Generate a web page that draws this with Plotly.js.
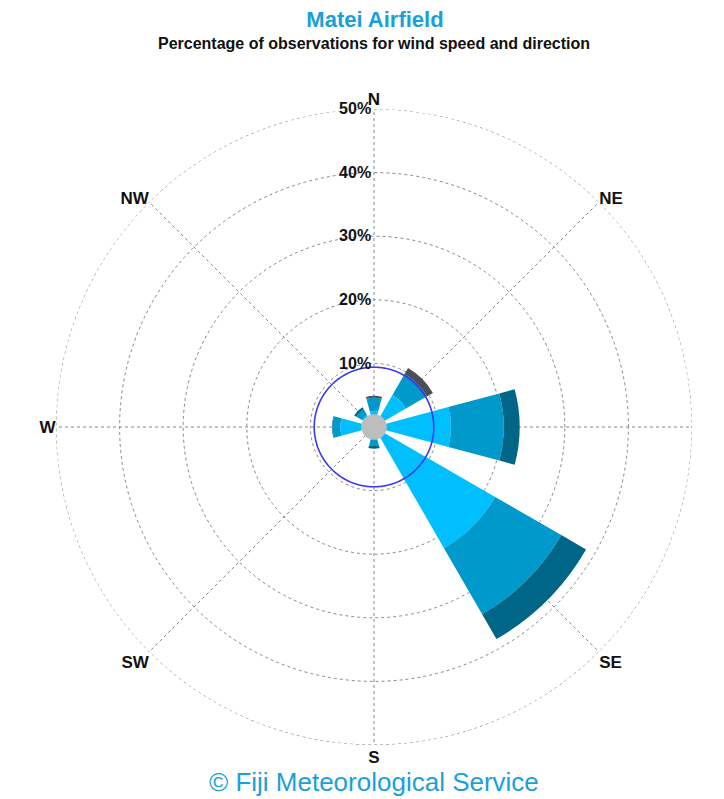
<!DOCTYPE html>
<html>
<head>
<meta charset="utf-8">
<script src="https://cdn.plot.ly/plotly-3.0.1.min.js"></script>
<style>html,body{margin:0;padding:0;background:#fff;}#chart{width:724px;height:799px;}</style>
</head>
<body>
<div id="chart"></div>
<script>
// Directions (compass bearings in degrees)
const directions = ['N', 'NE', 'E', 'SE', 'S', 'SW', 'W', 'NW'];
const bearings = [0, 45, 90, 135, 180, 225, 270, 315];
const dirLabels = ['N', 'NE', '', 'SE', 'S', 'SW', 'W', 'NW'];

// Percentage of observations per speed class (stacked)
const speedClass1 = [2.5, 5.8, 12.1, 22.0, 1.8, 1.2, 5.3, 2.2];
const speedClass2 = [2.1, 3.6, 8.3, 12.0, 1.2, 0.3, 1.2, 1.0];
const speedClass3 = [0.0, 0.2, 2.5, 4.5, 0.4, 0.1, 0.1, 0.4];
const speedClass4 = [0.3, 1.1, 0.0, 0.0, 0.0, 0.0, 0.0, 0.0];
const classColors = ['#00BFFF', '#0099CC', '#006688', '#4a4f55'];

const calmPct = 2.0;
const refCirclePct = 9.4;
const outerRingPct = 50;
const radialTicks = [10, 20, 30, 40, 50];
const radialTickText = ['10%', '20%', '30%', '40%', '50%'];

const circleTheta = [];
for (let a = 0; a <= 360; a += 1) circleTheta.push(a);

const classes = [speedClass1, speedClass2, speedClass3, speedClass4];
const traces = classes.map((vals, i) => ({
  type: 'barpolar',
  r: vals,
  theta: bearings,
  width: bearings.map(() => 30),
  marker: {color: classColors[i], line: {width: 0}},
  hoverinfo: 'skip',
  showlegend: false
}));

traces.push({
  type: 'scatterpolar',
  mode: 'lines',
  r: circleTheta.map(() => calmPct),
  theta: circleTheta,
  fill: 'toself',
  fillcolor: '#bdbdbd',
  line: {color: '#bdbdbd', width: 0},
  hoverinfo: 'skip',
  showlegend: false
});
traces.push({
  type: 'scatterpolar',
  mode: 'lines',
  r: circleTheta.map(() => refCirclePct),
  theta: circleTheta,
  line: {color: '#3a3af0', width: 1.6},
  hoverinfo: 'skip',
  showlegend: false
});
traces.push({
  type: 'scatterpolar',
  mode: 'lines',
  r: circleTheta.map(() => outerRingPct),
  theta: circleTheta,
  line: {color: '#888', width: 1, dash: 'dot'},
  hoverinfo: 'skip',
  showlegend: false
});

const R = 318, cx = 374, cyTop = 427, W = 724, H = 799;
const cyBottom = H - cyTop;
const boldFont = {size: 16, color: '#111', family: 'Liberation Sans, Arial, sans-serif', weight: 'bold'};

const layout = {
  width: W, height: H,
  margin: {l: 0, r: 0, t: 0, b: 0},
  paper_bgcolor: '#ffffff',
  font: {family: 'Liberation Sans, Arial, sans-serif', color: '#111'},
  title: {
    text: '<b>Matei Airfield</b>',
    font: {size: 22, color: '#1a9fd6', family: 'Liberation Sans, Arial, sans-serif'},
    x: 375 / W, xanchor: 'center',
    y: 1 - 19 / H, yanchor: 'middle', yref: 'container'
  },
  annotations: [
    {
      text: '<b>Percentage of observations for wind speed and direction</b>',
      xref: 'paper', yref: 'paper', x: 374 / W, y: 1 - 44 / H,
      xanchor: 'center', yanchor: 'middle', showarrow: false,
      font: {size: 16, color: '#111'}
    },
    {
      text: '© Fiji Meteorological Service',
      xref: 'paper', yref: 'paper', x: 374 / W, y: 1 - 782 / H,
      xanchor: 'center', yanchor: 'middle', showarrow: false,
      font: {size: 26, color: '#1ba0d8'}
    }
  ],
  polar: {
    domain: {x: [(cx - R) / W, (cx + R) / W], y: [(cyBottom - R) / H, (cyBottom + R) / H]},
    bgcolor: 'rgba(0,0,0,0)',
    barmode: 'stack',
    bargap: 0,
    radialaxis: {
      range: [0, 50],
      tickmode: 'array',
      tickvals: radialTicks,
      ticktext: radialTickText,
      angle: 90,
      side: 'counterclockwise',
      tickangle: 90,
      showline: false,
      ticks: '',
      gridcolor: '#888',
      griddash: 'dot',
      gridwidth: 1,
      tickfont: boldFont,
      layer: 'above traces'
    },
    angularaxis: {
      rotation: 90,
      direction: 'clockwise',
      tickmode: 'array',
      tickvals: bearings,
      ticktext: dirLabels,
      showline: false,
      ticks: '',
      gridcolor: '#888',
      griddash: 'dot',
      gridwidth: 1,
      tickfont: {size: 17, color: '#111', family: 'Liberation Sans, Arial, sans-serif', weight: 'bold'},
      layer: 'below traces'
    }
  }
};

Plotly.newPlot('chart', traces, layout, {displayModeBar: false, staticPlot: true});
</script>
</body>
</html>
